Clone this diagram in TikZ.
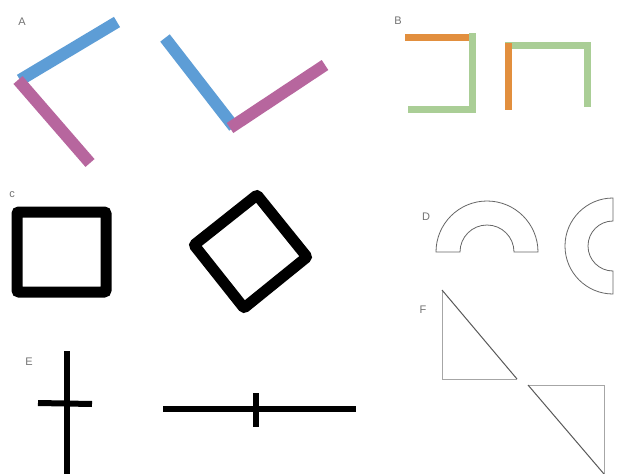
\documentclass[tikz,border=0pt]{standalone}
\usepackage{fontspec}
\setmainfont{Liberation Sans}
\definecolor{barblue}{RGB}{93,157,214}
\definecolor{barpink}{RGB}{183,102,158}
\definecolor{barorange}{RGB}{226,143,62}
\definecolor{bargreen}{RGB}{170,206,150}
\tikzset{
  lbl/.style={text=black!55, font=\fontsize{11}{11}\selectfont, inner sep=0pt},
  bluebar/.style={draw=barblue, line width=12pt},
  pinkbar/.style={draw=barpink, line width=12pt},
  orangebar/.style={draw=barorange, line width=7pt},
  greenbar/.style={draw=bargreen, line width=7pt},
  thickblack/.style={draw=black, line width=11pt, rounded corners=2pt},
  crossbar/.style={draw=black, line width=6pt},
  outline/.style={draw=black!60, line width=0.8pt},
  leg/.style={draw=black!35, line width=1pt},
  hyp/.style={draw=black!65, line width=1pt}
}
\begin{document}
\begin{tikzpicture}[x=1pt, y=-1pt]
\useasboundingbox[fill=white] (0,0) rectangle (622,474);

% A
\node[lbl] (la) at (22,22) {A};
\draw[bluebar] (20,80) -- (117,22);
\draw[pinkbar] (18,80) -- (90,163);
\draw[bluebar] (165,38) -- (234,127);
\draw[pinkbar] (230,128) -- (325,65);

% B
\node[lbl] (lb) at (398,21) {B};
\draw[orangebar] (405,37) -- (470,37);
\draw[greenbar] (472,33) -- (472,109) -- (408,109);
\draw[greenbar] (505,45) -- (587,45) -- (587,107);
\draw[orangebar] (508,43) -- (508,110);

% C
\node[lbl] (lc) at (12,195) {c};
\draw[thickblack] (17,212) rectangle (106,292);
\draw[thickblack] (257,195) -- (307,257) -- (244,308) -- (194,245) -- cycle;

% D
\node[lbl] (ld) at (426,217) {D};
\draw[outline] (538,252) arc[start angle=0, end angle=180, radius=51pt]
  -- (460,252) arc[start angle=180, end angle=0, radius=27pt] -- cycle;
\draw[outline] (613,198) arc[start angle=90, end angle=270, radius=48pt]
  -- (613,271) arc[start angle=270, end angle=90, radius=25pt] -- cycle;

% F
\node[lbl] (lf) at (423,310) {F};
\draw[leg] (517,379) -- (442,379) -- (442,290);
\draw[hyp] (442,290) -- (517,379);
\draw[leg] (528,385) -- (604,385) -- (604,474);
\draw[hyp] (528,385) -- (604,474);

% E
\node[lbl] (le) at (29,362) {E};
\draw[crossbar] (67,351) -- (67,474);
\draw[crossbar] (38,403) -- (92,404);
\draw[crossbar] (163,409) -- (356,409);
\draw[crossbar] (256,393) -- (256,427);
\end{tikzpicture}
\end{document}
